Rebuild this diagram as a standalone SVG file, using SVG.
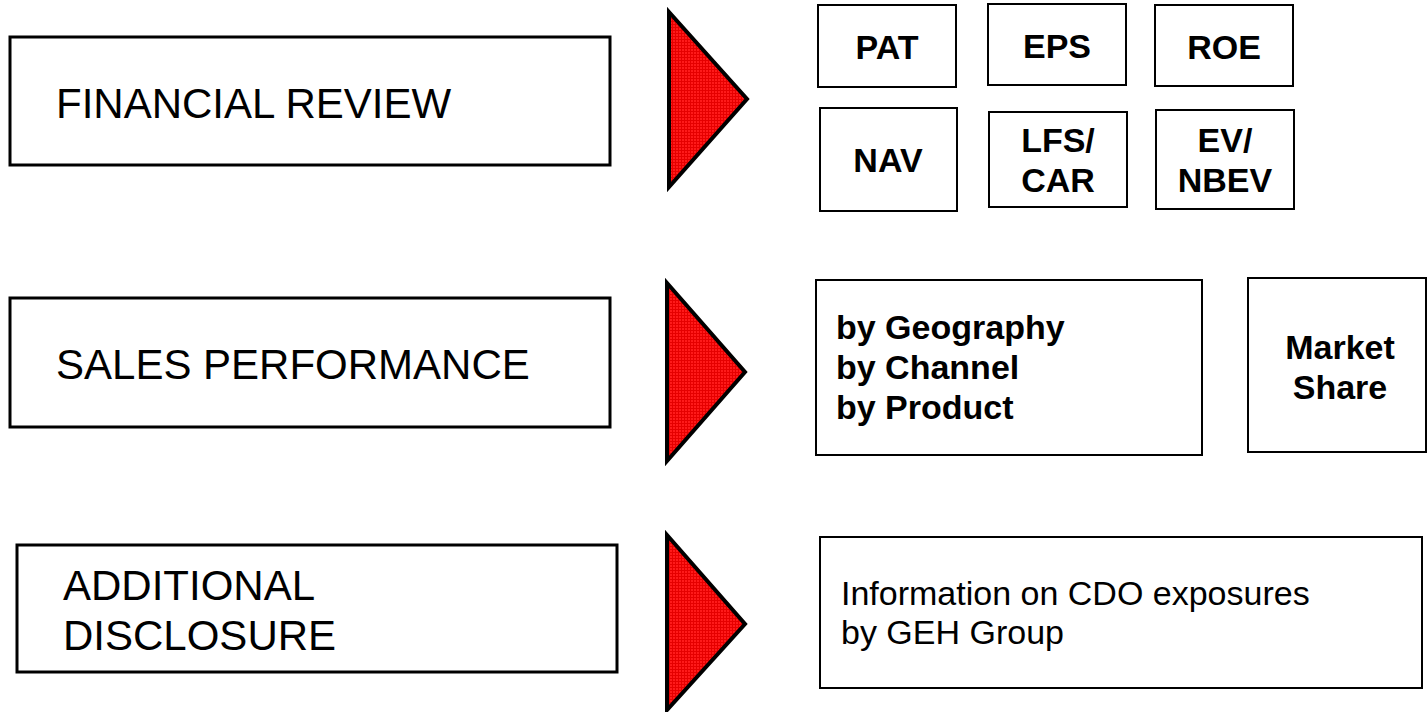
<svg xmlns="http://www.w3.org/2000/svg" width="1428" height="712" viewBox="0 0 1428 712">
<defs>
<pattern id="hatch" width="3" height="3" patternUnits="userSpaceOnUse">
<rect width="3" height="3" fill="#ff1a1a"/>
<path d="M0 0.5H3M0.5 0V3" stroke="#e60000" stroke-width="1"/>
</pattern>
</defs>
<style>
.box{fill:#fff;stroke:#000;stroke-width:3}
.sbox{fill:#fff;stroke:#000;stroke-width:2}
.tri{fill:url(#hatch);stroke:#000;stroke-width:4;stroke-linejoin:miter}
.big{font-family:"Liberation Sans",Arial,sans-serif;font-size:42px;fill:#000}
.b{font-family:"Liberation Sans",Arial,sans-serif;font-size:34px;font-weight:bold;fill:#000}
.bc{font-family:"Liberation Sans",Arial,sans-serif;font-size:34px;font-weight:bold;fill:#000;text-anchor:middle}
.r{font-family:"Liberation Sans",Arial,sans-serif;font-size:34px;fill:#000}
</style>
<rect width="1428" height="712" fill="#fff"/>
<g id="financial-review"><rect class="box" x="10" y="37" width="600" height="128"/><text class="big" x="56" y="118">FINANCIAL REVIEW</text></g>
<g id="sales-performance"><rect class="box" x="10" y="298" width="600" height="129"/><text class="big" x="56" y="379">SALES PERFORMANCE</text></g>
<g id="additional-disclosure"><rect class="box" x="17" y="545" width="600" height="127"/><text class="big" x="63" y="600">ADDITIONAL</text><text class="big" x="63" y="650">DISCLOSURE</text></g>
<g id="connectors">
<polygon class="tri" points="669,12 747,99 669,187"/>
<polygon class="tri" points="667,283 745,372 667,461"/>
<polygon class="tri" points="667,535 745,624 667,710"/>
</g>
<g id="pat"><rect class="sbox" x="818" y="5" width="138" height="82"/><text class="bc" x="887" y="59">PAT</text></g>
<g id="eps"><rect class="sbox" x="988" y="4" width="138" height="81"/><text class="bc" x="1057" y="58">EPS</text></g>
<g id="roe"><rect class="sbox" x="1155" y="5" width="138" height="81"/><text class="bc" x="1224" y="59">ROE</text></g>
<g id="nav"><rect class="sbox" x="820" y="108" width="137" height="103"/><text class="bc" x="888" y="172">NAV</text></g>
<g id="lfs-car"><rect class="sbox" x="989" y="112" width="138" height="95"/><text class="bc" x="1058" y="152">LFS/</text><text class="bc" x="1058" y="192">CAR</text></g>
<g id="ev-nbev"><rect class="sbox" x="1156" y="110" width="138" height="99"/><text class="bc" x="1225" y="152">EV/</text><text class="bc" x="1225" y="192">NBEV</text></g>
<g id="sales-breakdown"><rect class="sbox" x="816" y="280" width="386" height="175"/><text class="b" x="836" y="339">by Geography</text><text class="b" x="836" y="379">by Channel</text><text class="b" x="836" y="419">by Product</text></g>
<g id="market-share"><rect class="sbox" x="1248" y="278" width="178" height="174"/><text class="bc" x="1340" y="359">Market</text><text class="bc" x="1340" y="399">Share</text></g>
<g id="cdo-info"><rect class="sbox" x="820" y="537" width="602" height="151"/><text class="r" x="841" y="605">Information on CDO exposures</text><text class="r" x="841" y="644">by GEH Group</text></g>
</svg>
